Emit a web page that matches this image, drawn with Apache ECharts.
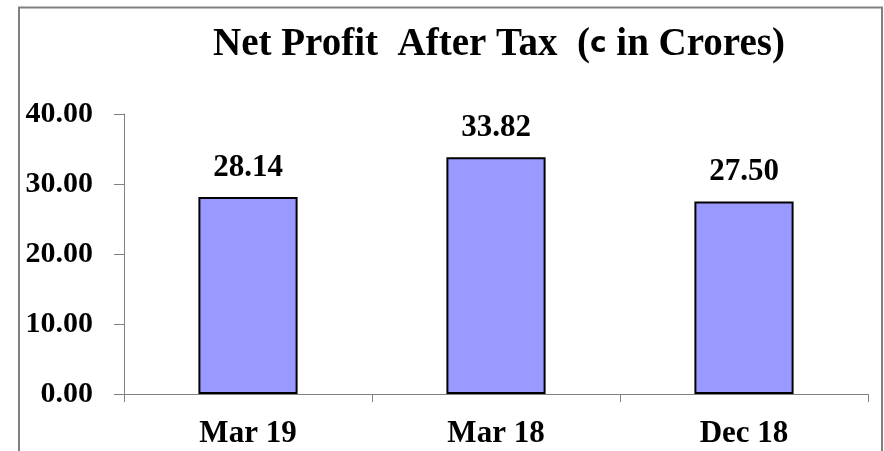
<!DOCTYPE html>
<html>
<head>
<meta charset="utf-8">
<script src="https://cdn.jsdelivr.net/npm/echarts@6/dist/echarts.min.js"></script>
<style>
  html, body { margin: 0; padding: 0; background: #fff; }
  #main { width: 884px; height: 451px; }
</style>
</head>
<body>
<div id="main"></div>
<script>
// data
var categories = ['Mar 19', 'Mar 18', 'Dec 18'];
var profitValues = [28.14, 33.82, 27.50];
var yTicks = [0, 10, 20, 30, 40];

var serif = '"Liberation Serif", "DejaVu Serif", serif';

var chart = echarts.init(document.getElementById('main'), null, { renderer: 'canvas' });

var option = {
    animation: false,
    backgroundColor: '#fff',
    title: {
        text: '{a|Net Profit  After Tax  (}{c|c}{a| in Crores)}',
        left: 499,
        top: 25,
        textAlign: 'center',
        padding: 0,
        textStyle: {
            rich: {
                a: { fontFamily: serif, fontWeight: 'bold', fontSize: 39, color: '#000' },
                c: { fontFamily: '"DejaVu Sans", sans-serif', fontWeight: 'bold', fontSize: 28, color: '#000' }
            }
        }
    },
    graphic: [{
        type: 'rect',
        shape: { x: 19, y: 7.5, width: 863, height: 500 },
        style: { fill: 'none', stroke: '#808080', lineWidth: 2 },
        silent: true
    }],
    grid: {
        left: 124,
        right: 16,
        top: 114,
        bottom: 57
    },
    xAxis: {
        type: 'category',
        data: categories,
        axisLine: { lineStyle: { color: '#808080', width: 1 } },
        axisTick: { show: true, length: 8, lineStyle: { color: '#808080' } },
        axisLabel: {
            margin: 24,
            color: '#000',
            fontFamily: serif,
            fontWeight: 'bold',
            fontSize: 31
        }
    },
    yAxis: {
        type: 'value',
        min: yTicks[0],
        max: yTicks[yTicks.length - 1],
        interval: 10,
        splitLine: { show: false },
        axisLine: { show: true, lineStyle: { color: '#808080', width: 1 } },
        axisTick: { show: true, length: 10, lineStyle: { color: '#808080' } },
        axisLabel: {
            margin: 31,
            color: '#000',
            fontFamily: serif,
            fontWeight: 'bold',
            fontSize: 30,
            formatter: function (v) { return v.toFixed(2); }
        }
    },
    series: [{
        type: 'bar',
        data: profitValues,
        barWidth: '40%',
        itemStyle: {
            color: '#9999ff',
            borderColor: '#000',
            borderWidth: 2
        },
        label: {
            show: true,
            position: 'top',
            distance: 14,
            color: '#000',
            fontFamily: serif,
            fontWeight: 'bold',
            fontSize: 31,
            formatter: function (p) { return p.value.toFixed(2); }
        }
    }]
};

chart.setOption(option);
</script>
</body>
</html>
